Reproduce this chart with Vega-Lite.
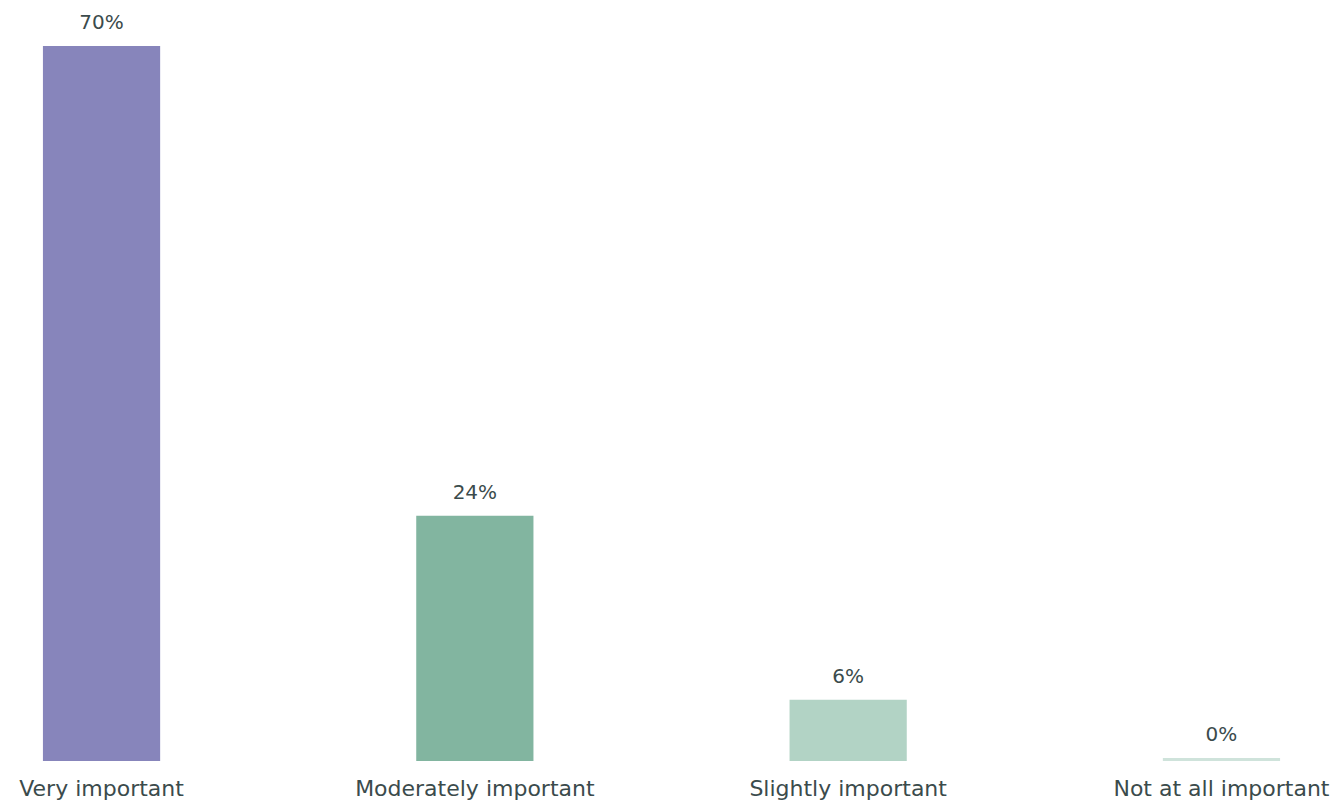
{
  "$schema": "https://vega.github.io/schema/vega-lite/v6.json",
  "autosize": {"type": "none"},
  "padding": {"left": 0, "top": 46, "right": 17, "bottom": 44},
  "width": 1323,
  "height": 715,
  "background": "white",
  "data": {"values": [
    {"category": "Very important", "value": 0.70},
    {"category": "Moderately important", "value": 0.24},
    {"category": "Slightly important", "value": 0.06},
    {"category": "Not at all important", "value": 0.003}
  ]},
  "encoding": {
    "x": {"field": "category", "type": "nominal", "sort": null,
      "scale": {"paddingInner": 0.686, "paddingOuter": 0.115},
      "axis": {"title": null, "ticks": false, "domain": false, "labelAngle": 0, "labelPadding": 17,
        "labelFont": "DejaVu Sans", "labelFontSize": 22, "labelColor": "#3b4b4c", "labelOverlap": false, "labelLimit": 0}},
    "y": {"field": "value", "type": "quantitative", "scale": {"domain": [0, 0.7]}, "axis": null}
  },
  "layer": [
    {"mark": {"type": "bar"},
     "encoding": {"color": {"field": "category", "type": "nominal", "legend": null,
       "scale": {"domain": ["Very important", "Moderately important", "Slightly important", "Not at all important"],
                 "range": ["#8785bb", "#82b5a0", "#b2d3c5", "#cfe3db"]}}}},
    {"mark": {"type": "text", "baseline": "alphabetic", "dy": -17, "font": "DejaVu Sans", "fontSize": 20, "color": "#3b4b4c"},
     "encoding": {"text": {"field": "value", "type": "quantitative", "format": ".0%"}}}
  ],
  "config": {"view": {"stroke": null}}
}
